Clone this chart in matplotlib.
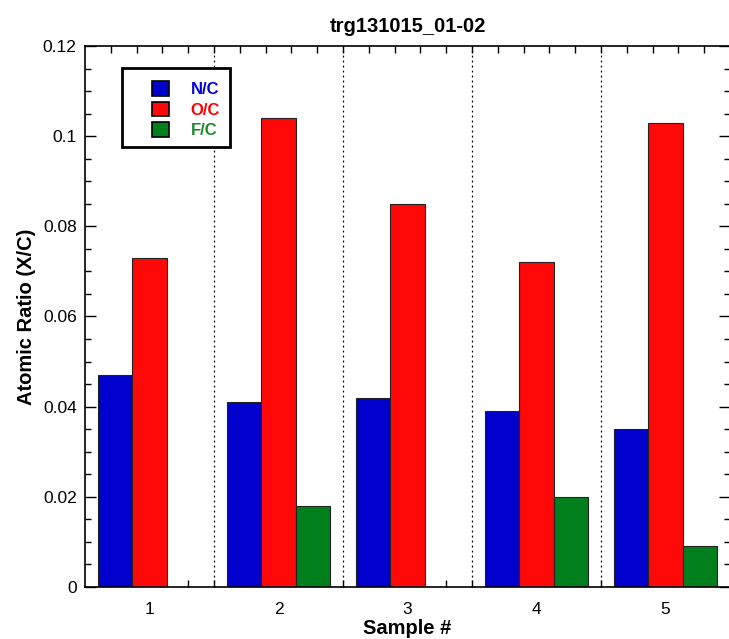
import numpy as np
import matplotlib
matplotlib.use("Agg")
import matplotlib.pyplot as plt
from matplotlib.ticker import MultipleLocator, FixedLocator
from matplotlib.patches import Rectangle

plt.rcParams['font.family'] = ['Liberation Sans', 'DejaVu Sans']

samples = [1, 2, 3, 4, 5]
n_c = [0.047, 0.041, 0.042, 0.039, 0.035]
o_c = [0.073, 0.104, 0.085, 0.072, 0.103]
f_c = [np.nan, 0.018, np.nan, 0.020, 0.009]

series = [
    ("N/C", n_c, "#0000cc", "#0000dd"),
    ("O/C", o_c, "#ff0808", "#ff0000"),
    ("F/C", f_c, "#007f1c", "#1a8a2a"),
]

fig = plt.figure(figsize=(7.29, 6.39), dpi=100)
ax = fig.add_axes([0.1166, 0.0814, 0.8848, 0.8466])

x = np.array(samples, dtype=float)
w = 0.8 / 3
for i, (lab, vals, col, _) in enumerate(series):
    ax.bar(x + (i - 1) * w, vals, width=w, color=col, edgecolor="#222222",
           linewidth=0.8, label=lab, zorder=2)

for xs in [1.5, 2.5, 3.5, 4.5]:
    ax.axvline(xs, color="black", linestyle=(0, (1.5, 2.5)), linewidth=0.9, zorder=1)

ax.set_xlim(0.5, 5.5)
ax.set_ylim(0, 0.12)
ax.set_xticks(samples)
ax.set_xticklabels([str(s) for s in samples])
ax.xaxis.set_minor_locator(FixedLocator(np.arange(0.7, 5.5, 0.2)))
ax.set_yticks(np.arange(0, 0.121, 0.02))
ax.set_yticklabels(["0", "0.02", "0.04", "0.06", "0.08", "0.1", "0.12"])
ax.yaxis.set_minor_locator(MultipleLocator(0.005))

ax.tick_params(axis="x", which="major", length=0, pad=11, labelsize=12.5)
ax.tick_params(axis="x", which="minor", direction="in", length=5, width=1,
               top=True, bottom=True)
ax.tick_params(axis="y", which="major", direction="in", length=8, width=1,
               left=True, right=True, labelsize=12.5, pad=6)
ax.tick_params(axis="y", which="minor", direction="in", length=4.5, width=1,
               left=True, right=True)
for sp in ax.spines.values():
    sp.set_linewidth(1.2)

ax.set_title("trg131015_01-02", fontsize=14.5, fontweight="bold", pad=10)
ax.set_xlabel("Sample #", fontsize=14.5, fontweight="bold", labelpad=1)
ax.set_ylabel("Atomic Ratio (X/C)", fontsize=14.5, fontweight="bold", labelpad=5)

# legend box drawn separately so the padding can be asymmetric like the original
ax.add_patch(Rectangle((0.0574, 0.813), 0.1674, 0.146, transform=ax.transAxes,
                       facecolor="white", edgecolor="black", linewidth=2, zorder=4))
leg = ax.legend(loc="upper left", bbox_to_anchor=(0.104, 0.935), borderaxespad=0,
                frameon=False, borderpad=0,
                prop={"weight": "bold", "size": 12}, handlelength=1.0,
                handleheight=1.0, handletextpad=1.3, labelspacing=0.25)
leg.set_zorder(5)
for txt, (_, _, _, tc) in zip(leg.get_texts(), series):
    txt.set_color(tc)
for h in leg.legend_handles:
    h.set_edgecolor("black")
    h.set_linewidth(1.2)

fig.savefig("out.png", dpi=100)
